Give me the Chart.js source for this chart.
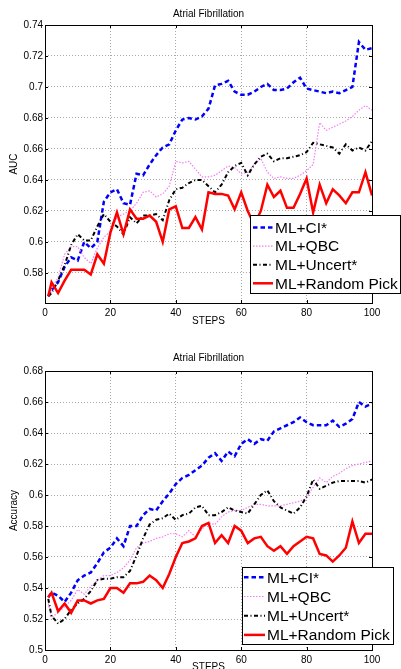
<!DOCTYPE html>
<html>
<head>
<meta charset="utf-8">
<script src="https://cdn.jsdelivr.net/npm/chart.js@4.4.0/dist/chart.umd.min.js"></script>
<style>
  html, body { margin: 0; padding: 0; background: #fff; }
  #wrap { position: relative; width: 401px; height: 669px; overflow: hidden; }
  canvas { position: absolute; left: 0; }
</style>
</head>
<body>
<div id="wrap">
  <canvas id="aucChart" width="401" height="334" style="top:0;width:401px;height:334px"></canvas>
  <canvas id="accChart" width="401" height="335" style="top:334px;width:401px;height:335px"></canvas>
</div>
<script>
// data
var steps = [1, 2, 4, 6, 8, 10, 12, 14, 16, 18, 20, 22, 24, 26, 28, 30, 32, 34, 36, 38, 40,
  42, 44, 46, 48, 50, 52, 54, 56, 58, 60, 62, 64, 66, 68, 70, 72, 74, 76, 78, 80,
  82, 84, 86, 88, 90, 92, 94, 96, 98, 100];

var seriesNames = ['ML+CI*', 'ML+QBC', 'ML+Uncert*', 'ML+Random Pick'];

var aucCI = [0.565, 0.569, 0.574, 0.584, 0.590, 0.588, 0.600, 0.596, 0.600, 0.626,
  0.632, 0.634, 0.625, 0.624, 0.644, 0.643, 0.650, 0.656, 0.661, 0.663,
  0.672, 0.679, 0.680, 0.679, 0.681, 0.686, 0.701, 0.702, 0.704, 0.697,
  0.695, 0.695, 0.697, 0.700, 0.702, 0.698, 0.698, 0.699, 0.703, 0.706,
  0.699, 0.698, 0.697, 0.696, 0.697, 0.696, 0.698, 0.700, 0.729, 0.724, 0.725];
var aucQBC = [0.565, 0.570, 0.577, 0.592, 0.597, 0.597, 0.590, 0.586, 0.596, 0.603,
  0.607, 0.616, 0.618, 0.620, 0.625, 0.632, 0.633, 0.629, 0.631, 0.636,
  0.652, 0.651, 0.652, 0.647, 0.642, 0.642, 0.643, 0.646, 0.649, 0.648,
  0.644, 0.645, 0.650, 0.654, 0.645, 0.641, 0.642, 0.641, 0.641, 0.643,
  0.646, 0.650, 0.677, 0.672, 0.674, 0.676, 0.678, 0.681, 0.685, 0.688, 0.685];
var aucUncert = [0.565, 0.567, 0.575, 0.585, 0.598, 0.605, 0.601, 0.601, 0.610, 0.618,
  0.613, 0.610, 0.605, 0.616, 0.612, 0.617, 0.617, 0.618, 0.614, 0.627,
  0.634, 0.635, 0.638, 0.640, 0.640, 0.636, 0.632, 0.637, 0.645, 0.649,
  0.651, 0.643, 0.650, 0.655, 0.657, 0.652, 0.654, 0.654, 0.655, 0.656,
  0.658, 0.664, 0.663, 0.662, 0.661, 0.657, 0.663, 0.659, 0.661, 0.659, 0.665];
var aucRandom = [0.565, 0.574, 0.567, 0.575, 0.582, 0.582, 0.582, 0.579, 0.592, 0.586,
  0.606, 0.619, 0.605, 0.621, 0.615, 0.615, 0.617, 0.613, 0.600, 0.621,
  0.623, 0.609, 0.609, 0.616, 0.608, 0.632, 0.631, 0.631, 0.630, 0.621,
  0.632, 0.620, 0.611, 0.620, 0.637, 0.629, 0.633, 0.622, 0.622, 0.631,
  0.641, 0.619, 0.637, 0.625, 0.634, 0.630, 0.625, 0.632, 0.632, 0.645, 0.630];

var accCI = [0.534, 0.537, 0.535, 0.531, 0.537, 0.545, 0.548, 0.550, 0.556, 0.563,
  0.566, 0.572, 0.567, 0.580, 0.580, 0.587, 0.591, 0.590, 0.596, 0.601,
  0.607, 0.611, 0.613, 0.616, 0.619, 0.624, 0.627, 0.622, 0.628, 0.625,
  0.633, 0.636, 0.633, 0.636, 0.635, 0.641, 0.643, 0.645, 0.647, 0.650,
  0.647, 0.645, 0.645, 0.645, 0.648, 0.644, 0.646, 0.649, 0.660, 0.657, 0.659];
var accQBC = [0.530, 0.521, 0.524, 0.528, 0.532, 0.539, 0.536, 0.541, 0.545, 0.548,
  0.548, 0.550, 0.553, 0.558, 0.566, 0.569, 0.570, 0.572, 0.573, 0.575,
  0.575, 0.573, 0.577, 0.573, 0.578, 0.582, 0.581, 0.586, 0.589, 0.590,
  0.590, 0.592, 0.594, 0.594, 0.593, 0.593, 0.593, 0.594, 0.595, 0.596,
  0.598, 0.605, 0.611, 0.608, 0.612, 0.614, 0.617, 0.619, 0.620, 0.621, 0.622];
var accUncert = [0.533, 0.522, 0.517, 0.520, 0.526, 0.530, 0.533, 0.538, 0.545, 0.546,
  0.546, 0.547, 0.547, 0.551, 0.561, 0.572, 0.581, 0.584, 0.585, 0.588,
  0.584, 0.587, 0.588, 0.592, 0.593, 0.587, 0.587, 0.589, 0.592, 0.590,
  0.589, 0.588, 0.594, 0.600, 0.603, 0.596, 0.592, 0.590, 0.588, 0.592,
  0.599, 0.610, 0.604, 0.606, 0.608, 0.609, 0.609, 0.609, 0.609, 0.608, 0.610];
var accRandom = [0.534, 0.537, 0.525, 0.530, 0.524, 0.532, 0.532, 0.530, 0.532, 0.533,
  0.540, 0.540, 0.537, 0.543, 0.543, 0.544, 0.548, 0.545, 0.540, 0.549,
  0.560, 0.569, 0.570, 0.572, 0.580, 0.582, 0.569, 0.574, 0.569, 0.580,
  0.577, 0.569, 0.572, 0.573, 0.567, 0.564, 0.567, 0.562, 0.567, 0.570,
  0.573, 0.572, 0.562, 0.561, 0.557, 0.561, 0.566, 0.583, 0.569, 0.575, 0.575];

var xTicks = [0, 20, 40, 60, 80, 100];
var aucTicks = [0.58, 0.60, 0.62, 0.64, 0.66, 0.68, 0.70, 0.72, 0.74];
var accTicks = [0.50, 0.52, 0.54, 0.56, 0.58, 0.60, 0.62, 0.64, 0.66, 0.68];

var FONT = '"Liberation Sans", Arial, Helvetica, sans-serif';

var lineStyles = [
  { color: '#0000ff', width: 2.5, dash: [4.5, 3], order: 3 },
  { color: '#f57ef5', width: 1.2, dash: [1.5, 1.5], order: 2 },
  { color: '#000000', width: 2, dash: [4, 2.5, 1, 2.5], order: 1 },
  { color: '#ff0000', width: 2.5, dash: [], order: 0 }
];

function toPoints(vals) {
  var pts = [];
  for (var i = 0; i < steps.length; i++) pts.push({ x: steps[i], y: vals[i] });
  return pts;
}

function fmt(v) { return String(parseFloat(v.toFixed(2))); }

// draws the matlab style box, inward ticks, titles and legend
var framePlugin = {
  id: 'matlabFrame',
  afterDraw: function (chart) {
    var o = chart.options.plugins.matlabFrame;
    var ctx = chart.ctx;
    var a = chart.chartArea;
    var xs = chart.scales.x, ys = chart.scales.y;
    ctx.save();
    ctx.setLineDash([]);
    ctx.strokeStyle = '#000';
    ctx.lineWidth = 1;
    ctx.strokeRect(Math.round(a.left) + 0.5, Math.round(a.top) + 0.5,
      Math.round(a.right - a.left), Math.round(a.bottom - a.top));
    ctx.beginPath();
    xTicks.forEach(function (v) {
      var px = Math.round(xs.getPixelForValue(v)) + 0.5;
      ctx.moveTo(px, a.bottom); ctx.lineTo(px, a.bottom - 3);
      ctx.moveTo(px, a.top); ctx.lineTo(px, a.top + 3);
    });
    o.yTicks.forEach(function (v) {
      var py = Math.round(ys.getPixelForValue(v)) + 0.5;
      ctx.moveTo(a.left, py); ctx.lineTo(a.left + 3, py);
      ctx.moveTo(a.right, py); ctx.lineTo(a.right - 3, py);
    });
    ctx.stroke();

    ctx.fillStyle = '#000';
    ctx.font = '10px ' + FONT;
    ctx.textAlign = 'center';
    ctx.textBaseline = 'middle';
    ctx.fillText('Atrial Fibrillation', (a.left + a.right) / 2, o.titleY);
    ctx.fillText('STEPS', (a.left + a.right) / 2, o.stepsY);
    ctx.save();
    ctx.translate(14, (a.top + a.bottom) / 2);
    ctx.rotate(-Math.PI / 2);
    ctx.fillText(o.yLabel, 0, 0);
    ctx.restore();

    var L = o.legend;
    ctx.fillStyle = '#fff';
    ctx.fillRect(L.x, L.y, L.w, L.h);
    ctx.strokeStyle = '#000';
    ctx.lineWidth = 1;
    ctx.strokeRect(L.x + 0.5, L.y + 0.5, L.w, L.h);
    ctx.font = '15.5px ' + FONT;
    ctx.textAlign = 'left';
    chart.data.datasets.forEach(function (ds, i) {
      var ry = L.row0 + i * L.rowGap;
      ctx.beginPath();
      ctx.setLineDash(ds.borderDash || []);
      ctx.strokeStyle = ds.borderColor;
      ctx.lineWidth = ds.borderWidth;
      ctx.moveTo(L.line0, ry); ctx.lineTo(L.line1, ry);
      ctx.stroke();
      ctx.setLineDash([]);
      ctx.fillStyle = '#000';
      ctx.fillText(ds.label, L.textX, ry + 1);
    });
    ctx.restore();
  }
};

function makeChart(id, series, yMin, yMax, yTicks, yLabel, frame) {
  var H = document.getElementById(id).height;
  var datasets = series.map(function (vals, i) {
    var st = lineStyles[i];
    return {
      label: seriesNames[i],
      data: toPoints(vals),
      borderColor: st.color,
      borderWidth: st.width,
      borderDash: st.dash,
      order: st.order,
      pointRadius: 0,
      tension: 0,
      fill: false
    };
  });
  return new Chart(document.getElementById(id), {
    type: 'line',
    data: { datasets: datasets },
    plugins: [framePlugin],
    options: {
      responsive: false,
      animation: false,
      layout: { padding: { top: frame.top, right: 401 - frame.right, left: 0, bottom: 0 } },
      plugins: {
        legend: { display: false },
        tooltip: { enabled: false },
        matlabFrame: { titleY: frame.titleY, stepsY: frame.stepsY, yLabel: yLabel, yTicks: yTicks, legend: frame.legend }
      },
      scales: {
        x: {
          type: 'linear', min: 0, max: 100,
          afterBuildTicks: function (s) { s.ticks = xTicks.map(function (v) { return { value: v }; }); },
          afterFit: function (s) { s.height = H - frame.bottom; },
          ticks: { font: { size: 10, family: FONT }, color: '#000', padding: 4, maxRotation: 0, autoSkip: false },
          grid: { color: '#a8a8a8', drawTicks: false },
          border: { display: false, dash: [1, 2] }
        },
        y: {
          type: 'linear', min: yMin, max: yMax,
          afterBuildTicks: function (s) { s.ticks = yTicks.map(function (v) { return { value: v }; }); },
          afterFit: function (s) { s.width = frame.left; },
          ticks: { font: { size: 10, family: FONT }, color: '#000', padding: 2, callback: fmt },
          grid: { color: '#a8a8a8', drawTicks: false },
          border: { display: false, dash: [1, 2] }
        }
      }
    }
  });
}

makeChart('aucChart', [aucCI, aucQBC, aucUncert, aucRandom], 0.5606, 0.74, aucTicks, 'AUC', {
  top: 25, bottom: 303, left: 45, right: 372, titleY: 14, stepsY: 321,
  legend: { x: 250, y: 215, w: 150, h: 78, row0: 227.5, rowGap: 18.6, line0: 253, line1: 273, textX: 275 }
});

makeChart('accChart', [accCI, accQBC, accUncert, accRandom], 0.5, 0.68, accTicks, 'Accuracy', {
  top: 37, bottom: 316, left: 45, right: 372, titleY: 24, stepsY: 333,
  legend: { x: 242, y: 233, w: 151, h: 77, row0: 243.3, rowGap: 19.2, line0: 244, line1: 265, textX: 267 }
});
</script>
</body>
</html>
